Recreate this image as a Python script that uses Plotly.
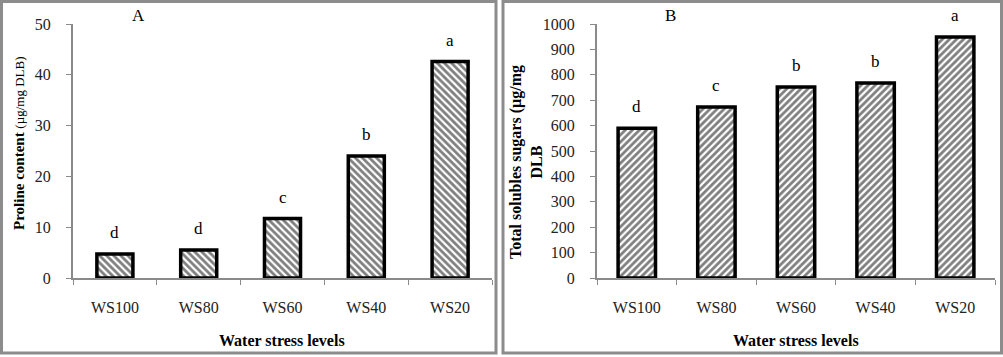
import plotly.graph_objects as go

categories = ["WS100", "WS80", "WS60", "WS40", "WS20"]
proline = [4.7, 5.5, 11.7, 24.0, 42.6]
proline_letters = ["d", "d", "c", "b", "a"]
sugars = [590, 673, 752, 768, 949]
sugars_letters = ["d", "c", "b", "b", "a"]

W, H = 1003, 357
def px(x): return x / W
def py(y): return 1 - y / H

FONT = "Liberation Serif"
AXC = "#8a8a8a"

fig = go.Figure()
fig.add_trace(go.Bar(
    x=categories, y=proline, xaxis="x", yaxis="y", width=0.43,
    marker=dict(color="white", line=dict(color="black", width=3.5),
                pattern=dict(shape="\\", fgcolor="black", bgcolor="white", size=5, solidity=0.55)),
    showlegend=False))
fig.add_trace(go.Bar(
    x=categories, y=sugars, xaxis="x2", yaxis="y2", width=0.47,
    marker=dict(color="white", line=dict(color="black", width=3.5),
                pattern=dict(shape="/", fgcolor="black", bgcolor="white", size=5, solidity=0.55)),
    showlegend=False))

tickfont = dict(family=FONT, size=16, color="#222")
common_x = dict(type="category", showline=True, linecolor=AXC, linewidth=2,
                ticks="outside", tickson="boundaries", ticklen=5, tickcolor=AXC,
                tickfont=tickfont, ticklabelstandoff=14, showgrid=False, zeroline=False,
                automargin=False)
common_y = dict(showline=True, linecolor=AXC, linewidth=2, ticks="outside", ticklen=5,
                tickcolor=AXC, tickfont=tickfont, ticklabelstandoff=12,
                showgrid=False, zeroline=False, automargin=False)

fig.update_layout(
    width=W, height=H, margin=dict(l=0, r=0, t=0, b=0, pad=0), autosize=False,
    font=dict(family=FONT, color="black"),
    plot_bgcolor="white", paper_bgcolor="white",
    xaxis=dict(domain=[px(73), px(492)], anchor="y", **common_x),
    yaxis=dict(domain=[py(278), py(24)], anchor="x", range=[0, 50], dtick=10, **common_y),
    xaxis2=dict(domain=[px(597), px(995)], anchor="y2", **common_x),
    yaxis2=dict(domain=[py(278), py(24)], anchor="x2", range=[0, 1000], dtick=100, **common_y),
)

ann = []
for c, v, t in zip(categories, proline, proline_letters):
    ann.append(dict(x=c, y=v, xref="x", yref="y", text=t, showarrow=False,
                    yanchor="bottom", yshift=10, font=dict(family=FONT, size=17, color="black")))
for c, v, t in zip(categories, sugars, sugars_letters):
    ann.append(dict(x=c, y=v, xref="x2", yref="y2", text=t, showarrow=False,
                    yanchor="bottom", yshift=10, font=dict(family=FONT, size=17, color="black")))

def pa(x, y, text, size, **kw):
    d = dict(x=px(x), y=py(y), xref="paper", yref="paper", text=text, showarrow=False,
             xanchor="center", yanchor="middle", font=dict(family=FONT, size=size, color="black"))
    d.update(kw)
    return d

ann += [
    pa(138, 16, "A", 17),
    pa(670, 16, "B", 17),
    pa(282, 340, "<b>Water stress levels</b>", 16),
    pa(796, 340, "<b>Water stress levels</b>", 16),
    pa(19, 143, "<b>Proline content</b> <span style='font-size:13px'>(µg/mg DLB)</span>", 15,
       textangle=-90),
    pa(526, 162, "<b>Total solubles sugars (µg/mg<br>DLB</b>", 16, textangle=-90),
]
fig.update_layout(annotations=ann)

shapes = [
    dict(type="rect", xref="paper", yref="paper", x0=px(1.5), x1=px(496), y0=py(353), y1=py(1.5),
         line=dict(color="#8c8c8c", width=3)),
    dict(type="rect", xref="paper", yref="paper", x0=px(503), x1=px(1001.5), y0=py(353), y1=py(1.5),
         line=dict(color="#8c8c8c", width=3)),
]
fig.update_layout(shapes=shapes)

fig.write_html("out.html", config={"displayModeBar": False},
               post_script="document.body.style.margin='0';document.body.style.overflow='hidden';")
